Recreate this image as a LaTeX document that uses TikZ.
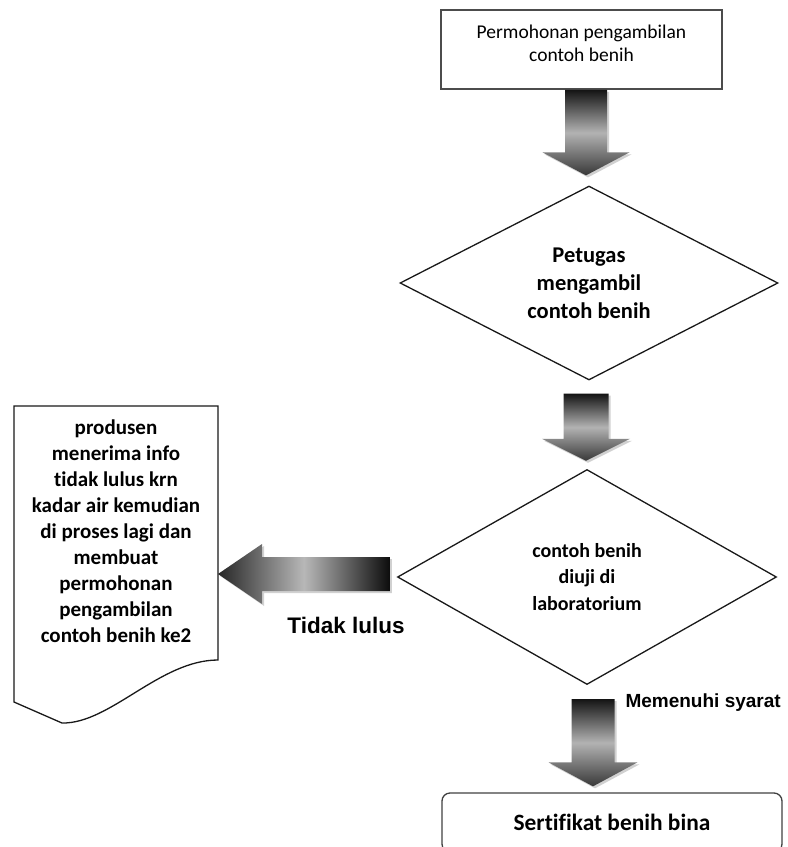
\documentclass[tikz,border=0pt]{standalone}
\usepackage{fontspec}
\setmainfont{Carlito}[Ligatures=NoCommon]
\newfontfamily\labelfont{Liberation Sans}
\usetikzlibrary{shapes.geometric,calc}

% outline of a downward block arrow: #1 start, #2 tip, #3 half shaft, #4 half head, #5 head length
\newcommand\vflowpath[5]{%
  let \p1=(#1), \p2=(#2) in
  (\x2-#3pt,\y1) -- (\x2+#3pt,\y1) -- (\x2+#3pt,\y2+#5pt) -- (\x2+#4pt,\y2+#5pt)
  -- (\x2,\y2) -- (\x2-#4pt,\y2+#5pt) -- (\x2-#3pt,\y2+#5pt) -- cycle}
% outline of a leftward block arrow: #1 tail, #2 tip
\newcommand\hflowpath[5]{%
  let \p1=(#1), \p2=(#2) in
  (\x1,\y2+#3pt) -- (\x2+#5pt,\y2+#3pt) -- (\x2+#5pt,\y2+#4pt) -- (\x2,\y2)
  -- (\x2+#5pt,\y2-#4pt) -- (\x2+#5pt,\y2-#3pt) -- (\x1,\y2-#3pt) -- cycle}

\newcommand\vflow[5]{%
  \begin{scope}[transform canvas={xshift=2pt,yshift=-2pt}]
    \fill[flowshadow] \vflowpath{#1}{#2}{#3}{#4}{#5};
  \end{scope}
  \shade[vshade] \vflowpath{#1}{#2}{#3}{#4}{#5};}
\newcommand\hflow[5]{%
  \begin{scope}[transform canvas={xshift=2pt,yshift=-2pt}]
    \fill[flowshadow] \hflowpath{#1}{#2}{#3}{#4}{#5};
  \end{scope}
  \shade[hshade] \hflowpath{#1}{#2}{#3}{#4}{#5};}

\tikzset{
  startbox/.style={draw=black!70, line width=1.8pt, minimum width=281pt,
    minimum height=79pt, inner sep=0pt},
  boxtext/.style={align=center, font=\fontsize{19.5}{23}\selectfont},
  decision/.style={diamond, draw=black!90, line width=1.3pt, inner sep=0pt,
    align=center},
  doctext/.style={align=center, font=\bfseries\fontsize{21}{26}\selectfont},
  docshape/.style={draw=black!90, line width=1.3pt, fill=white},
  endbox/.style={draw=black!75, line width=1.3pt, rounded corners=8pt,
    minimum width=340pt, minimum height=59pt, inner sep=0pt,
    font=\bfseries\fontsize{23.4}{28}\selectfont},
  flowshadow/.style={fill=black, opacity=.18},
  vshade/.style={top color=black!92, bottom color=black!78, middle color=black!30},
  hshade/.style={left color=black!85, right color=black!95, middle color=black!28},
  edgelabel/.style={font=\labelfont\bfseries},
}

\begin{document}
\begin{tikzpicture}[x=1pt, y=-1pt]
\useasboundingbox (0,0) rectangle (788,847);

% request box
\node[startbox] (perm) at (581.5,49.5) {};
\node[boxtext] (permtext) at (581.5,43.5) {Permohonan pengambilan\\contoh benih};

% decisions
\node[decision, minimum width=378pt, minimum height=189pt,
  font=\bfseries\fontsize{22.5}{28}\selectfont] (take) at (589,283)
  {Petugas\\mengambil\\contoh benih};
\node[decision, minimum width=379pt, minimum height=215pt,
  font=\bfseries\fontsize{20}{26.5}\selectfont] (test) at (587,577)
  {contoh benih\\diuji di\\laboratorium};

% document with wavy bottom
\draw[docshape] (14,406) -- (218,406) -- (218,660)
  .. controls (160,660) and (110,724) .. (62,723) -- (14,702) -- cycle;
\coordinate (docR) at (218,574);
\node[doctext] (doc) at (116,531.5)
  {produsen\\menerima info\\tidak lulus krn\\kadar air kemudian\\di proses lagi dan\\membuat\\permohonan\\pengambilan\\contoh benih ke2};

% certificate box (bottom edge runs off the page)
\node[endbox] (cert) at (612,822.5) {Sertifikat benih bina};

% block arrows
\vflow{perm.south}{$(take.north)+(-3,-10)$}{21}{43.5}{23}
\vflow{$(take.south)+(0,13)$}{$(test.north)+(-1,-8)$}{22.5}{44}{22}
\vflow{$(test.south)+(0,14)$}{$(cert.north)+(-19,-6)$}{21.5}{44.5}{24}
\hflow{$(test.west)+(-7,0)$}{docR}{17}{30}{44}

% labels
\node[edgelabel, font=\labelfont\bfseries\fontsize{22.5}{26}\selectfont] (fail) at (346,625) {Tidak lulus};
\node[edgelabel, anchor=west, font=\labelfont\bfseries\fontsize{19}{22}\selectfont] (pass) at (622,703) {Memenuhi syarat};
\end{tikzpicture}
\end{document}
